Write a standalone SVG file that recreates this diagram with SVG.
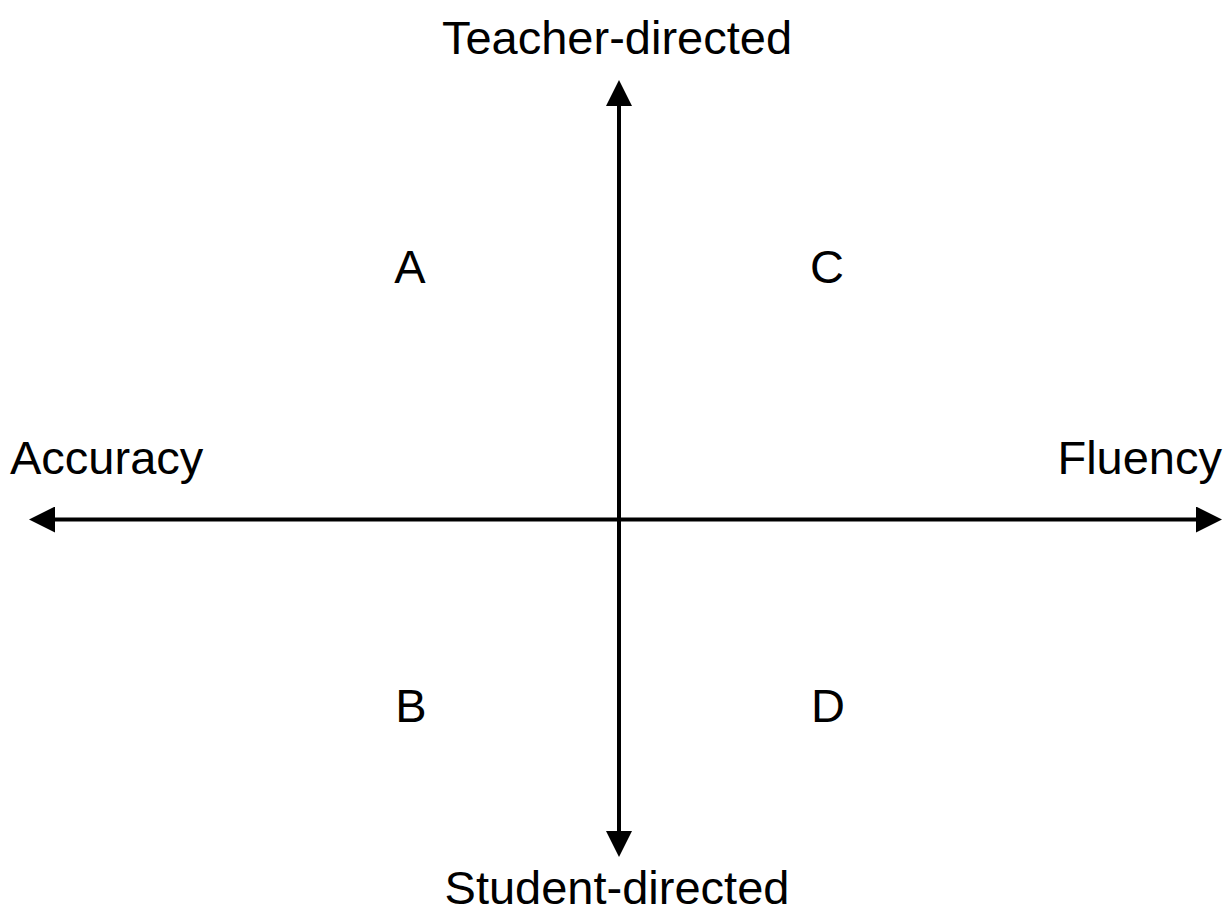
<svg xmlns="http://www.w3.org/2000/svg" width="1227" height="915" viewBox="0 0 1227 915">
  <style>
    .axis { stroke: #000; stroke-width: 4; fill: none; }
    .label { font-family: "Liberation Sans", Arial, sans-serif; font-size: 47px; fill: #000; }
  </style>
  <defs>
    <marker id="head" markerUnits="userSpaceOnUse" viewBox="0 0 26 26" refX="0" refY="13" markerWidth="26" markerHeight="26" orient="auto-start-reverse">
      <path d="M0,0 L26,13 L0,26 z" fill="#000"/>
    </marker>
  </defs>
  <rect width="1227" height="915" fill="#fff"/>

  <g id="connectors">
    <line class="axis" x1="55" y1="519.5" x2="1196" y2="519.5" marker-start="url(#head)" marker-end="url(#head)"/>
    <line class="axis" x1="619" y1="106" x2="619" y2="831" marker-start="url(#head)" marker-end="url(#head)"/>
  </g>

  <g id="teacher-directed"><text class="label" x="617" y="54" text-anchor="middle">Teacher-directed</text></g>
  <g id="student-directed"><text class="label" x="617" y="904" text-anchor="middle">Student-directed</text></g>
  <g id="accuracy"><text class="label" x="10" y="474">Accuracy</text></g>
  <g id="fluency"><text class="label" x="1222" y="474" text-anchor="end">Fluency</text></g>
  <g id="quadrant-a"><text class="label" x="410" y="283" text-anchor="middle">A</text></g>
  <g id="quadrant-c"><text class="label" x="827" y="283" text-anchor="middle">C</text></g>
  <g id="quadrant-b"><text class="label" x="411" y="722" text-anchor="middle">B</text></g>
  <g id="quadrant-d"><text class="label" x="828" y="722" text-anchor="middle">D</text></g>
</svg>
